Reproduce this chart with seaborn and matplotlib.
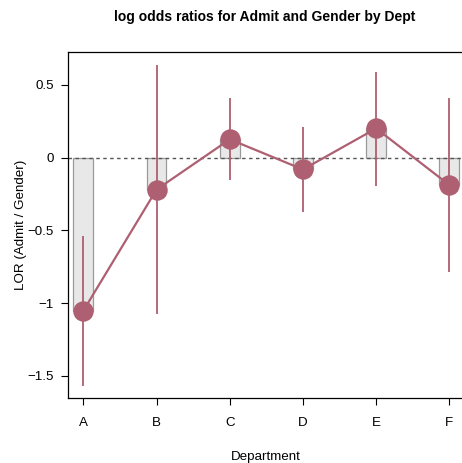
import matplotlib
matplotlib.use("Agg")
import matplotlib.pyplot as plt
import seaborn as sns
import numpy as np
import pandas as pd

depts = ["A", "B", "C", "D", "E", "F"]
lor = [-1.052, -0.220, 0.125, -0.082, 0.200, -0.189]
lower = [-1.567, -1.077, -0.155, -0.377, -0.194, -0.789]
upper = [-0.537, 0.635, 0.407, 0.210, 0.589, 0.407]
yticks = [-1.5, -1.0, -0.5, 0.0, 0.5]
yticklabels = ["\u22121.5", "\u22121", "\u22120.5", "0", "0.5"]

sns.set_style("ticks")
plt.rcParams["font.family"] = ["Liberation Sans", "DejaVu Sans"]
plt.rcParams["text.color"] = "black"
plt.rcParams["axes.labelcolor"] = "black"

W, H = 462, 463
fig = plt.figure(figsize=(W / 100, H / 100), dpi=100)
left, right, top, bottom = 68, 464, 52, 398
ax = fig.add_axes([left / W, 1 - bottom / H, (right - left) / W, (bottom - top) / H])

df = pd.DataFrame({"Dept": depts, "LOR": lor})
col = "#AE5F71"

sns.barplot(data=df, x="Dept", y="LOR", ax=ax, width=0.27, color="#E8E8E8",
            saturation=1, edgecolor="#9A9A9A", linewidth=0.9, zorder=1)
ax.axhline(0, color="#555555", linestyle=(0, (2.5, 2.5)), linewidth=1.0, zorder=2)
x = np.arange(len(depts))
ax.vlines(x, lower, upper, color=col, linewidth=1.3, zorder=3)
sns.pointplot(data=df, x="Dept", y="LOR", ax=ax, color=col, markersize=13.5,
              linewidth=1.6, errorbar=None, zorder=4)

ax.set_xlim(-0.21, 5.2)
ax.set_ylim(-1.652, 0.725)
ax.set_yticks(yticks)
ax.set_yticklabels(yticklabels)
ax.tick_params(axis="both", labelsize=9.6, length=5, width=0.8, color="black",
               labelcolor="black")
ax.tick_params(axis="y", pad=5)
ax.tick_params(axis="x", pad=9)
for s in ["left", "bottom", "top"]:
    ax.spines[s].set_color("black")
    ax.spines[s].set_linewidth(0.9)
ax.spines["right"].set_visible(False)

ax.set_xlabel("Department", fontsize=9.6, labelpad=15.5)
ax.set_ylabel("LOR (Admit / Gender)", fontsize=9.6, labelpad=0.5)
fig.text((left + 462) / 2 / W, 1 - 17 / H, "log odds ratios for Admit and Gender by Dept",
         ha="center", va="center", fontsize=10, fontweight="bold")

fig.savefig("out.png", dpi=100)
